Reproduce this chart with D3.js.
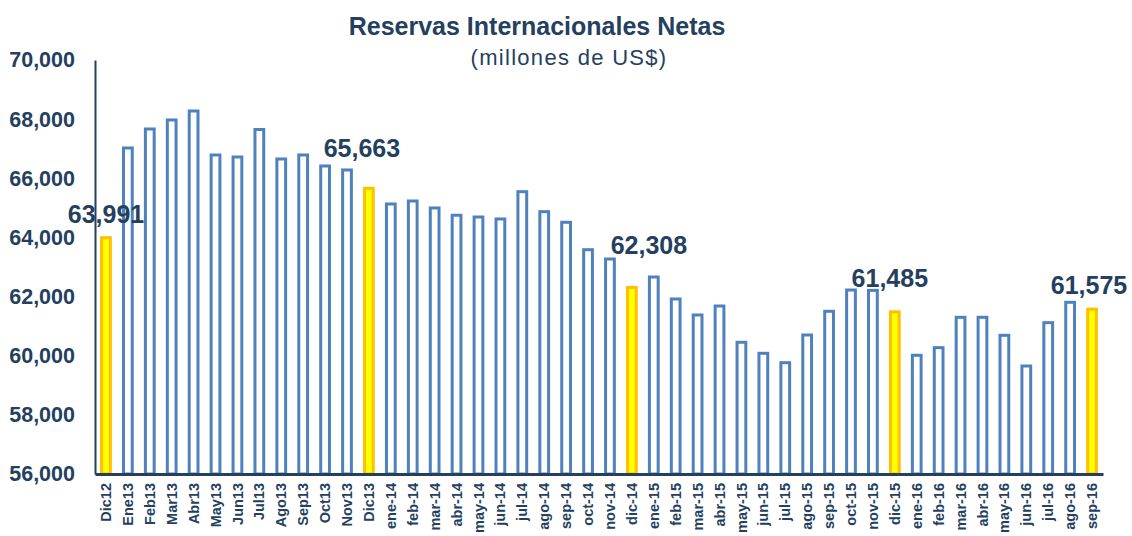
<!DOCTYPE html>
<html>
<head>
<meta charset="utf-8">
<script src="https://cdn.jsdelivr.net/npm/d3@7"></script>
<style>
  body { margin: 0; background: #fff; }
  text { font-family: "Liberation Sans", Arial, sans-serif; }
</style>
</head>
<body>
<div id="chart"></div>
<script>
// months shown on the x axis
var months = ["Dic12", "Ene13", "Feb13", "Mar13", "Abr13", "May13", "Jun13", "Jul13", "Ago13", "Sep13", "Oct13", "Nov13", "Dic13",
  "ene-14", "feb-14", "mar-14", "abr-14", "may-14", "jun-14", "jul-14", "ago-14", "sep-14", "oct-14", "nov-14", "dic-14",
  "ene-15", "feb-15", "mar-15", "abr-15", "may-15", "jun-15", "jul-15", "ago-15", "sep-15", "oct-15", "nov-15", "dic-15",
  "ene-16", "feb-16", "mar-16", "abr-16", "may-16", "jun-16", "jul-16", "ago-16", "sep-16"];

// reserves, millions of US$
var reserves = [63991, 67025, 67667, 67972, 68276, 66788, 66720, 67650, 66653, 66788, 66416, 66281, 65663,
  65131, 65232, 64996, 64750, 64690, 64624, 65547, 64871, 64512, 63585, 63271, 62308,
  62662, 61918, 61377, 61681, 60454, 60082, 59764, 60701, 61502, 62222, 62210, 61485,
  60014, 60272, 61299, 61299, 60690, 59652, 61117, 61806, 61575];

// months that get the yellow bar and a value label
var highlighted = ["Dic12", "Dic13", "dic-14", "dic-15", "sep-16"];

var yTicks = [56000, 58000, 60000, 62000, 64000, 66000, 68000, 70000];

const svgwidth = 1132;
const svgheight = 536;
var margin = {top: 60, right: 29, bottom: 62, left: 95};
var width = svgwidth - margin.left - margin.right;
var height = svgheight - margin.top - margin.bottom;

var navy = "#243F60";

var svg = d3.select("#chart")
  .append("svg")
  .attr("width", svgwidth)
  .attr("height", svgheight);

// title
svg.append("text")
  .attr("x", 537).attr("y", 35)
  .attr("text-anchor", "middle")
  .attr("font-size", 25).attr("font-weight", "bold")
  .attr("fill", navy)
  .text("Reservas Internacionales Netas");
svg.append("text")
  .attr("x", 569).attr("y", 65)
  .attr("text-anchor", "middle")
  .attr("font-size", 22)
  .attr("letter-spacing", 1.3)
  .attr("fill", navy)
  .text("(millones de US$)");

var g = svg.append("g")
  .attr("transform", `translate(${margin.left}, ${margin.top})`);

var x = d3.scaleBand()
  .domain(months)
  .range([0, width])
  .paddingInner(0.6)
  .paddingOuter(0.3);

var y = d3.scaleLinear()
  .domain([56000, 70000])
  .range([height, 0]);

var data = months.map(function(m, i) {
  return {month: m, value: reserves[i], hi: highlighted.indexOf(m) >= 0};
});

// bars
g.selectAll("rect.bar")
  .data(data)
  .enter()
  .append("rect")
  .attr("class", "bar")
  .attr("x", d => x(d.month))
  .attr("y", d => y(d.value))
  .attr("width", x.bandwidth())
  .attr("height", d => height - y(d.value))
  .attr("fill", d => d.hi ? "#FFFF00" : "#fff")
  .attr("stroke", d => d.hi ? "#FFC000" : "#4F81BD")
  .attr("stroke-width", 3);

// y axis
var left = d3.axisLeft(y).tickValues(yTicks).tickSize(0).tickPadding(20)
  .tickFormat(d3.format(","));
var yAxis = g.append("g").call(left);
yAxis.select(".domain").attr("stroke", navy).attr("stroke-width", 2);
yAxis.selectAll("text")
  .attr("font-size", 21.5).attr("font-weight", "bold").attr("fill", navy)
  .attr("font-family", "Liberation Sans, Arial, sans-serif");

// x axis
var bottom = d3.axisBottom(x).tickSize(0).tickPadding(10);
var xAxis = g.append("g")
  .attr("transform", `translate(0, ${height})`)
  .call(bottom);
xAxis.select(".domain").attr("stroke", navy).attr("stroke-width", 3);
xAxis.selectAll("text")
  .attr("transform", "rotate(-90)")
  .attr("text-anchor", "end")
  .attr("dy", "0.35em")
  .attr("x", -9)
  .attr("y", 0)
  .attr("font-size", 14.5).attr("font-weight", "bold").attr("fill", navy)
  .attr("font-family", "Liberation Sans, Arial, sans-serif");

// value labels over the highlighted bars
var labelShift = {"Dic12": [0, -15], "Dic13": [-7, -31], "dic-14": [17, -33], "dic-15": [-5, -25], "sep-16": [-3, -15]};
g.selectAll("text.val")
  .data(data.filter(d => d.hi))
  .enter()
  .append("text")
  .attr("class", "val")
  .attr("x", d => x(d.month) + x.bandwidth() / 2 + labelShift[d.month][0])
  .attr("y", d => y(d.value) + labelShift[d.month][1])
  .attr("text-anchor", "middle")
  .attr("font-size", 25).attr("font-weight", "bold")
  .attr("fill", navy)
  .text(d => d3.format(",")(d.value));
</script>
</body>
</html>
